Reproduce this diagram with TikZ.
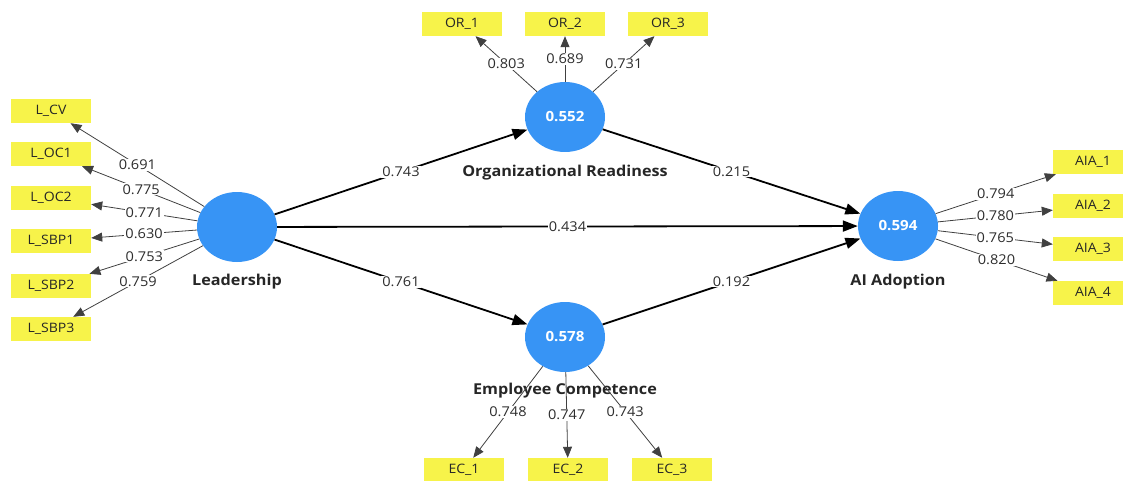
\documentclass[tikz,border=0pt]{standalone}
\usepackage{fontspec}
\setmainfont{Open Sans}[FakeStretch=1.08]
\usetikzlibrary{shapes.geometric,arrows.meta}
\definecolor{lvblue}{RGB}{55,148,245}
\definecolor{indyellow}{RGB}{247,243,74}
\definecolor{labgray}{RGB}{45,45,45}
\begin{document}
\begin{tikzpicture}[x=1pt,y=-1pt,
 lv/.style={ellipse, fill=lvblue, minimum width=80pt, minimum height=70pt, inner sep=0pt, text=white, font=\fontsize{14}{16}\selectfont\bfseries},
 ind/.style={rectangle, fill=indyellow, minimum width=80pt, minimum height=24pt, inner sep=0pt, font=\fontsize{13}{15}\selectfont, text=black!85},
 lvname/.style={font=\fontsize{15}{17}\selectfont\bfseries, text=black!85},
 loadarr/.style={-{Triangle[length=11pt,width=9pt]}, line width=0.8pt, draw=black!75},
 structarr/.style={-{Triangle[length=15pt,width=11pt]}, line width=1.8pt, draw=black},
 coef/.style={fill=white, inner sep=1pt, font=\fontsize{13.5}{15}\selectfont, text=labgray},
]
\useasboundingbox (0,0) rectangle (1123,481);

% latent variables
\node[lv] (L)  at (237,227) {};
\node[lv] (OR) at (565,117) {0.552};
\node[lv] (EC) at (565,337) {0.578};
\node[lv] (AI) at (898,226) {0.594};

\node[lvname] (Lname)  at (237,282) {Leadership};
\node[lvname] (ORname) at (565,173) {Organizational Readiness};
\node[lvname] (ECname) at (565,391) {Employee Competence};
\node[lvname] (AIname) at (898,282) {AI Adoption};

% indicators
\node[ind] (LCV)   at (51,111) {L\_CV};
\node[ind] (LOC1)  at (51,154) {L\_OC1};
\node[ind] (LOC2)  at (51,198) {L\_OC2};
\node[ind] (LSBP1) at (51,241) {L\_SBP1};
\node[ind] (LSBP2) at (51,286) {L\_SBP2};
\node[ind] (LSBP3) at (51,329) {L\_SBP3};

\node[ind] (OR1) at (462,24) {OR\_1};
\node[ind] (OR2) at (565,24) {OR\_2};
\node[ind] (OR3) at (668,24) {OR\_3};

\node[ind] (EC1) at (464,470) {EC\_1};
\node[ind] (EC2) at (568,470) {EC\_2};
\node[ind] (EC3) at (672,470) {EC\_3};

\node[ind] (AIA1) at (1093,162) {AIA\_1};
\node[ind] (AIA2) at (1093,206) {AIA\_2};
\node[ind] (AIA3) at (1093,249) {AIA\_3};
\node[ind] (AIA4) at (1093,293) {AIA\_4};

% outer loadings
\draw[loadarr] (L) -- (LCV)   node[coef, midway] {0.691};
\draw[loadarr] (L) -- (LOC1)  node[coef, midway] {0.775};
\draw[loadarr] (L) -- (LOC2)  node[coef, midway] {0.771};
\draw[loadarr] (L) -- (LSBP1) node[coef, midway] {0.630};
\draw[loadarr] (L) -- (LSBP2) node[coef, midway] {0.753};
\draw[loadarr] (L) -- (LSBP3) node[coef, midway] {0.759};

\draw[loadarr] (OR) -- (OR1) node[coef, midway] {0.803};
\draw[loadarr] (OR) -- (OR2) node[coef, midway] {0.689};
\draw[loadarr] (OR) -- (OR3) node[coef, midway] {0.731};

\draw[loadarr] (EC) -- (EC1) node[coef, midway] {0.748};
\draw[loadarr] (EC) -- (EC2) node[coef, midway] {0.747};
\draw[loadarr] (EC) -- (EC3) node[coef, midway] {0.743};

\draw[loadarr] (AI) -- (AIA1) node[coef, midway] {0.794};
\draw[loadarr] (AI) -- (AIA2) node[coef, midway] {0.780};
\draw[loadarr] (AI) -- (AIA3) node[coef, midway] {0.765};
\draw[loadarr] (AI) -- (AIA4) node[coef, midway] {0.820};

% structural paths
\draw[structarr] (L) -- (OR)  node[coef, midway] {0.743};
\draw[structarr] (L) -- (EC)  node[coef, midway] {0.761};
\draw[structarr] (L) -- (AI)  node[coef, midway] {0.434};
\draw[structarr] (OR) -- (AI) node[coef, midway] {0.215};
\draw[structarr] (EC) -- (AI) node[coef, midway] {0.192};
\end{tikzpicture}
\end{document}
